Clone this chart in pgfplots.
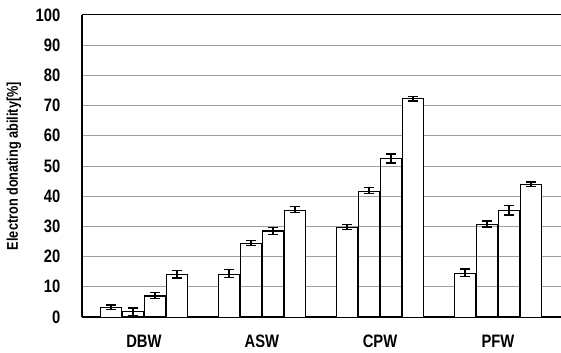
\documentclass[border=0pt]{standalone}
\usepackage{fontspec}
\setmainfont{Liberation Sans}[FakeStretch=0.82]
\usepackage{pgfplots}
\pgfplotsset{compat=1.18}
\pgfplotstableread{
x a ea b eb c ec d ed
0 3.2 0.8 1.8 1.2 7.0 1.0 14.2 1.3
1 14.3 1.3 24.5 0.8 28.5 1.2 35.5 1.0
2 29.8 0.7 41.8 1.0 52.5 1.5 72.3 0.8
3 14.6 1.3 30.8 1.0 35.3 1.5 44.0 0.7
}\datatable
\begin{document}
\begin{tikzpicture}[font=\bfseries]
\begin{axis}[
  scale only axis, width=479pt, height=302pt,
  xmin=-0.525, xmax=3.534, ymin=0, ymax=100,
  axis lines=left, axis line style={-, black, line width=1.3pt},
  xtick=data, xticklabels={DBW,ASW,CPW,PFW},
  ytick={0,10,...,90},
  extra y ticks={100},
  extra y tick style={grid style={black, line width=1pt}},
  /pgf/number format/assume math mode=true,
  ticklabel style={font=\fontsize{18}{18}\selectfont\bfseries},
  tick style={draw=none},
  ymajorgrids, grid style={gray!75, line width=0.7pt},
  ylabel={Electron donating ability[\%]},
  ylabel style={font=\fontsize{15.5}{15.5}\selectfont\bfseries, at={(axis description cs:-0.1420,0.5)}, anchor=center},
  ybar=1pt, bar width=21pt,
  cycle list={{fill=white, draw=black, line width=1.3pt}},
  error bars/y dir=both, error bars/y explicit,
  error bars/error mark options={rotate=90, mark size=5pt, line width=1.2pt, black},
  error bars/error bar style={line width=1.2pt, black},
  xticklabel style={yshift=-10.5pt},
  yticklabel style={xshift=-16pt},
]
\addplot table[x=x, y=a, y error=ea]{\datatable};
\addplot table[x=x, y=b, y error=eb]{\datatable};
\addplot table[x=x, y=c, y error=ec]{\datatable};
\addplot table[x=x, y=d, y error=ed]{\datatable};
\end{axis}
\pgfresetboundingbox
\path ([xshift=-82pt,yshift=15pt]current axis.north west) rectangle ([yshift=-36pt]current axis.south east);
\end{tikzpicture}
\end{document}
